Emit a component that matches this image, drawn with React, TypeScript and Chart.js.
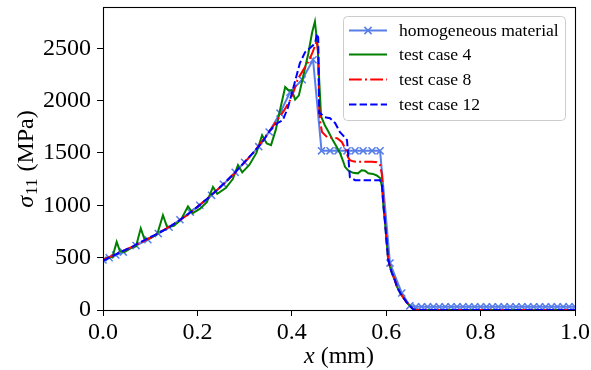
import React, { useEffect, useRef } from "react";
import { Chart, registerables } from "chart.js";

Chart.register(...registerables);

// ---------- data ----------
const xTicks = [0, 0.2, 0.4, 0.6, 0.8, 1.0];
const xTickLabels = ["0.0", "0.2", "0.4", "0.6", "0.8", "1.0"];
const yTicks = [0, 500, 1000, 1500, 2000, 2500];
const yTickLabels = ["0", "500", "1000", "1500", "2000", "2500"];

const seriesNames = ["homogeneous material", "test case 4", "test case 8", "test case 12"];

const homogX = [
  0, 0.013, 0.027, 0.043, 0.07, 0.095, 0.117, 0.14, 0.163, 0.185, 0.205, 0.23, 0.255, 0.28, 0.3, 0.33,
  0.352, 0.375, 0.396, 0.422, 0.445, 0.463, 0.481, 0.498, 0.517, 0.534, 0.551, 0.57, 0.587, 0.608,
  0.633, 0.65, 0.6625, 0.675, 0.6875, 0.7, 0.7125, 0.725, 0.7375, 0.75, 0.7625, 0.775, 0.7875, 0.8,
  0.8125, 0.825, 0.8375, 0.85, 0.8625, 0.875, 0.8875, 0.9, 0.9125, 0.925, 0.9375, 0.95, 0.9625, 0.975,
  0.9875, 1.0,
];
const homogY = [
  478, 500, 525, 553, 615, 672, 730, 790, 862, 935, 1000, 1095, 1200, 1315, 1410, 1560, 1700, 1880,
  2080, 2200, 2390, 1520, 1520, 1520, 1520, 1520, 1520, 1520, 1520, 448, 162, 40, 30, 30, 30, 30, 30,
  30, 30, 30, 30, 30, 30, 30, 30, 30, 30, 30, 30, 30, 30, 30, 30, 30, 30, 30, 30, 30, 30, 30,
];

const case4X = [
  0, 0.01, 0.02, 0.029, 0.036, 0.046, 0.06, 0.07, 0.08, 0.088, 0.1, 0.115, 0.127, 0.136, 0.15, 0.165,
  0.18, 0.19, 0.205, 0.22, 0.233, 0.242, 0.26, 0.275, 0.286, 0.295, 0.31, 0.325, 0.337, 0.347, 0.356,
  0.366, 0.376, 0.386, 0.393, 0.4, 0.407, 0.415, 0.425, 0.435, 0.443, 0.449, 0.455, 0.458, 0.462, 0.47,
  0.478, 0.487, 0.495, 0.502, 0.508, 0.513, 0.52, 0.53, 0.54, 0.548, 0.555, 0.562, 0.572, 0.58, 0.587,
  0.591, 0.594, 0.597, 0.6, 0.604, 0.608, 0.612, 0.618, 0.623, 0.63, 0.636, 0.643, 0.65, 0.657, 0.665,
  1.0,
];
const case4Y = [
  475, 500, 505, 650, 560, 555, 595, 610, 780, 675, 685, 725, 905, 790, 805, 860, 990, 925, 965, 1030,
  1175, 1110, 1165, 1250, 1385, 1315, 1385, 1500, 1670, 1590, 1575, 1720, 1930, 2130, 2100, 2100, 2010,
  2050, 2250, 2450, 2650, 2755, 2500, 2200, 1850, 1765, 1700, 1620, 1560, 1500, 1430, 1365, 1330, 1310,
  1305, 1335, 1330, 1305, 1300, 1285, 1260, 1180, 1000, 860, 700, 490, 410, 355, 290, 220, 160, 120, 75,
  40, 8, 0, 0,
];

const case8X = [
  0, 0.02, 0.04, 0.06, 0.08, 0.1, 0.12, 0.14, 0.16, 0.18, 0.2, 0.22, 0.24, 0.26, 0.28, 0.3, 0.32, 0.34,
  0.355, 0.37, 0.383, 0.396, 0.405, 0.413, 0.42, 0.428, 0.436, 0.443, 0.449, 0.453, 0.456, 0.458, 0.46,
  0.464, 0.475, 0.485, 0.496, 0.506, 0.513, 0.519, 0.523, 0.53, 0.54, 0.55, 0.56, 0.57, 0.58, 0.587,
  0.591, 0.594, 0.597, 0.6, 0.604, 0.608, 0.612, 0.618, 0.623, 0.63, 0.636, 0.643, 0.65, 0.657, 0.665,
  1.0,
];
const case8Y = [
  480, 520, 560, 600, 645, 690, 740, 795, 850, 910, 985, 1060, 1140, 1220, 1310, 1410, 1510, 1630, 1720,
  1820, 1900, 2000, 2100, 2210, 2260, 2320, 2380, 2450, 2520, 2575, 2450, 1950, 1800, 1700, 1650, 1645,
  1640, 1605, 1545, 1460, 1432, 1420, 1415, 1418, 1415, 1415, 1412, 1385, 1290, 1050, 880, 700, 490,
  410, 355, 290, 220, 160, 120, 75, 40, 8, 0, 0,
];

const case12X = [
  0, 0.02, 0.04, 0.06, 0.08, 0.1, 0.12, 0.14, 0.16, 0.18, 0.2, 0.22, 0.24, 0.26, 0.28, 0.3, 0.32, 0.34,
  0.354, 0.369, 0.381, 0.392, 0.403, 0.417, 0.428, 0.438, 0.445, 0.45, 0.453, 0.456, 0.458, 0.46, 0.47,
  0.481, 0.492, 0.502, 0.508, 0.517, 0.52, 0.523, 0.534, 0.55, 0.57, 0.587, 0.591, 0.594, 0.597, 0.6,
  0.604, 0.608, 0.612, 0.618, 0.623, 0.63, 0.636, 0.643, 0.65, 0.657, 0.665, 1.0,
];
const case12Y = [
  470, 515, 560, 600, 650, 695, 740, 790, 850, 915, 985, 1060, 1140, 1225, 1315, 1415, 1510, 1620, 1717,
  1784, 1812, 1937, 2118, 2357, 2461, 2500, 2528, 2560, 2640, 2600, 1880, 1879, 1841, 1831, 1784, 1698,
  1670, 1622, 1450, 1269, 1240, 1240, 1240, 1240, 1200, 1000, 860, 700, 490, 410, 355, 290, 220, 160,
  120, 75, 40, 8, 0, 0,
];

// ---------- styles ----------
const SERIF = "'Liberation Serif', 'Times New Roman', serif";
const HOMOG_COLOR = "rgb(88,126,232)";
const GREEN = "#008000";
const RED = "#ff0000";
const BLUE = "#0000ff";
const RED_DASH = [12.8, 3.2, 2, 3.2];
const BLUE_DASH = [7.4, 3.2];

const toPts = (xs: number[], ys: number[]) => xs.map((x, i) => ({ x, y: ys[i] }));

const overlayPlugin = {
  id: "overlay",
  afterDatasetsDraw(chart: any) {
    const { ctx, chartArea: ca } = chart;
    ctx.save();
    ctx.strokeStyle = "#000";
    ctx.lineWidth = 1.1;
    ctx.setLineDash([]);
    ctx.strokeRect(Math.round(ca.left) + 0.5, Math.round(ca.top) + 0.5, Math.round(ca.right - ca.left), Math.round(ca.bottom - ca.top));
    ctx.restore();
  },
  afterDraw(chart: any) {
    const { ctx, chartArea: ca } = chart;
    ctx.save();
    // legend box
    const bx = 343.5, by = 16.5, bw = 222, bh = 104, r = 4;
    ctx.beginPath();
    ctx.moveTo(bx + r, by);
    ctx.lineTo(bx + bw - r, by);
    ctx.quadraticCurveTo(bx + bw, by, bx + bw, by + r);
    ctx.lineTo(bx + bw, by + bh - r);
    ctx.quadraticCurveTo(bx + bw, by + bh, bx + bw - r, by + bh);
    ctx.lineTo(bx + r, by + bh);
    ctx.quadraticCurveTo(bx, by + bh, bx, by + bh - r);
    ctx.lineTo(bx, by + r);
    ctx.quadraticCurveTo(bx, by, bx + r, by);
    ctx.closePath();
    ctx.fillStyle = "rgba(255,255,255,0.8)";
    ctx.fill();
    ctx.strokeStyle = "#cccccc";
    ctx.lineWidth = 1;
    ctx.stroke();

    const rows = [30.5, 54.5, 79.5, 104.5];
    const colors = [HOMOG_COLOR, GREEN, RED, BLUE];
    const dashes = [[], [], RED_DASH, BLUE_DASH];
    for (let i = 0; i < 4; i++) {
      const y = rows[i];
      ctx.beginPath();
      ctx.setLineDash(dashes[i]);
      ctx.strokeStyle = colors[i];
      ctx.lineWidth = 2;
      ctx.moveTo(349, y);
      ctx.lineTo(387, y);
      ctx.stroke();
      ctx.setLineDash([]);
      if (i === 0) {
        const cx = 368, h = 3.6;
        ctx.lineWidth = 1.5;
        ctx.beginPath();
        ctx.moveTo(cx - h, y - h);
        ctx.lineTo(cx + h, y + h);
        ctx.moveTo(cx - h, y + h);
        ctx.lineTo(cx + h, y - h);
        ctx.stroke();
      }
      ctx.fillStyle = "#000";
      ctx.font = `17.6px ${SERIF}`;
      ctx.textBaseline = "alphabetic";
      ctx.textAlign = "left";
      ctx.fillText(seriesNames[i], 399, y + 5.5);
    }

    // x axis title: "x (mm)"
    ctx.fillStyle = "#000";
    ctx.textBaseline = "alphabetic";
    ctx.textAlign = "left";
    const cxm = (ca.left + ca.right) / 2;
    ctx.font = `italic 24px ${SERIF}`;
    const w1 = ctx.measureText("x").width;
    ctx.font = `24px ${SERIF}`;
    const w2 = ctx.measureText(" (mm)").width;
    let sx = cxm - (w1 + w2) / 2;
    ctx.font = `italic 24px ${SERIF}`;
    ctx.fillText("x", sx, 363);
    ctx.font = `24px ${SERIF}`;
    ctx.fillText(" (mm)", sx + w1, 363);

    // y axis title: "σ11 (MPa)"
    ctx.save();
    ctx.translate(33, 159);
    ctx.rotate(-Math.PI / 2);
    ctx.font = `italic 24px ${SERIF}`;
    const a = ctx.measureText("σ").width;
    ctx.font = `17px ${SERIF}`;
    const b = ctx.measureText("11").width;
    ctx.font = `24px ${SERIF}`;
    const c = ctx.measureText(" (MPa)").width;
    let px = -(a + b + c + 2) / 2;
    ctx.font = `italic 24px ${SERIF}`;
    ctx.fillText("σ", px, 0);
    px += a + 1;
    ctx.font = `17px ${SERIF}`;
    ctx.fillText("11", px, 4);
    px += b + 1;
    ctx.font = `24px ${SERIF}`;
    ctx.fillText(" (MPa)", px, 0);
    ctx.restore();

    ctx.restore();
  },
};

export default function App() {
  const ref = useRef<HTMLCanvasElement | null>(null);

  useEffect(() => {
    if (!ref.current) return;
    const tickFont = { family: SERIF, size: 24 };
    const chart = new Chart(ref.current, {
      type: "line",
      data: {
        datasets: [
          {
            label: seriesNames[3],
            data: toPts(case12X, case12Y),
            borderColor: BLUE,
            borderWidth: 2,
            borderDash: BLUE_DASH,
            pointRadius: 0,
            fill: false,
            tension: 0,
          },
          {
            label: seriesNames[2],
            data: toPts(case8X, case8Y),
            borderColor: RED,
            borderWidth: 2,
            borderDash: RED_DASH,
            pointRadius: 0,
            fill: false,
            tension: 0,
          },
          {
            label: seriesNames[1],
            data: toPts(case4X, case4Y),
            borderColor: GREEN,
            borderWidth: 2,
            pointRadius: 0,
            fill: false,
            tension: 0,
          },
          {
            label: seriesNames[0],
            data: toPts(homogX, homogY),
            borderColor: HOMOG_COLOR,
            backgroundColor: HOMOG_COLOR,
            borderWidth: 2,
            pointStyle: "crossRot",
            pointRadius: 5,
            pointBorderWidth: 1.5,
            pointBorderColor: HOMOG_COLOR,
            pointBackgroundColor: HOMOG_COLOR,
            fill: false,
            tension: 0,
          },
        ],
      } as any,
      options: {
        animation: false,
        responsive: false,
        devicePixelRatio: 1,
        events: [],
        layout: { padding: { left: 0, top: 7, right: 16, bottom: 0 }, autoPadding: false } as any,
        plugins: { legend: { display: false }, tooltip: { enabled: false } },
        scales: {
          x: {
            type: "linear",
            min: 0,
            max: 1,
            afterBuildTicks: (s: any) => {
              s.ticks = xTicks.map((v) => ({ value: v }));
            },
            afterFit: (s: any) => {
              s.height = 60;
              s.paddingLeft = 0;
              s.paddingRight = 0;
            },
            ticks: {
              callback: (v: any) => xTickLabels[xTicks.indexOf(Number(v))],
              font: tickFont,
              color: "#000",
              padding: 2,
              maxRotation: 0,
              autoSkip: false,
            },
            grid: { drawOnChartArea: false, drawTicks: true, tickLength: 6, color: "#000", lineWidth: 1 },
            border: { display: false },
          },
          y: {
            type: "linear",
            min: 0,
            max: 2894,
            afterBuildTicks: (s: any) => {
              s.ticks = yTicks.map((v) => ({ value: v }));
            },
            afterFit: (s: any) => {
              s.width = 103;
              s.paddingTop = 0;
              s.paddingBottom = 0;
            },
            ticks: {
              callback: (v: any) => yTickLabels[yTicks.indexOf(Number(v))],
              font: tickFont,
              color: "#000",
              padding: 6,
              autoSkip: false,
            },
            grid: { drawOnChartArea: false, drawTicks: true, tickLength: 6, color: "#000", lineWidth: 1 },
            border: { display: false },
          },
        },
      } as any,
      plugins: [overlayPlugin],
    });
    return () => chart.destroy();
  }, []);

  return (
    <div style={{ position: "absolute", left: 0, top: 0, width: 591, height: 370, background: "#fff" }}>
      <canvas ref={ref} width={591} height={370} style={{ width: 591, height: 370, display: "block" }} />
    </div>
  );
}
